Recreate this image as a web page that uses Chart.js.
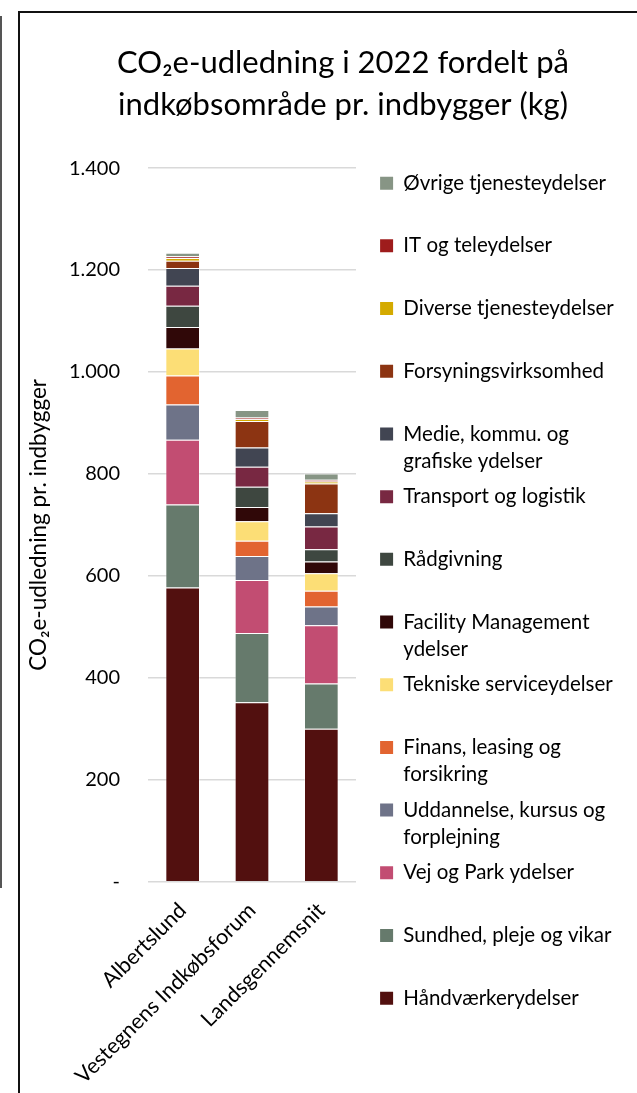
<!DOCTYPE html>
<html><head><meta charset="utf-8">
<script src="https://cdn.jsdelivr.net/npm/chart.js@4.4.1/dist/chart.umd.min.js"></script>
<style>
html,body{margin:0;padding:0;background:#fff;}
#wrap{position:relative;width:637px;height:1093px;overflow:hidden;background:#fff;}
#c{position:absolute;left:0;top:0;}
.frame{position:absolute;left:18px;top:11px;width:700px;height:1200px;border-left:2px solid #111;border-top:2px solid #111;}
.side{position:absolute;left:0;top:16px;width:2px;height:872px;background:#555;}
</style></head><body>
<div id="wrap"><canvas id="c" width="637" height="1093"></canvas><div class="side"></div><div class="frame"></div></div>
<script>
// ---- data ----
const categories = ['Albertslund', 'Vestegnens Indkøbsforum', 'Landsgennemsnit'];
const titleLines = ['CO\u2082e-udledning i 2022 fordelt på', 'indkøbsområde pr. indbygger (kg)'];
const yAxisTitle = 'CO\u2082e-udledning pr. indbygger';
const yTickValues = [0, 200, 400, 600, 800, 1000, 1200, 1400];
const yTickLabels = ['-', '200', '400', '600', '800', '1.000', '1.200', '1.400'];

const haandvaerk   = [577, 352, 300];
const sundhed      = [163, 136, 89];
const vejPark      = [127, 104, 114];
const uddannelse   = [69, 47, 37];
const finans       = [57, 30, 31];
const tekniske     = [53, 38, 34];
const facility     = [42, 28, 23];
const raadgivning  = [42, 40, 24];
const transport    = [39, 39, 45];
const medie        = [35, 38, 26];
const forsyning    = [14, 52, 58];
const diverse      = [5.5, 3.3, 4];
const itTele       = [3.5, 3.2, 3.5];
const oevrige      = [7, 15, 12.5];

const seriesNames = ['Håndværkerydelser', 'Sundhed, pleje og vikar', 'Vej og Park ydelser',
  'Uddannelse, kursus og forplejning', 'Finans, leasing og forsikring', 'Tekniske serviceydelser',
  'Facility Management ydelser', 'Rådgivning', 'Transport og logistik',
  'Medie, kommu. og grafiske ydelser', 'Forsyningsvirksomhed', 'Diverse tjenesteydelser',
  'IT og teleydelser', 'Øvrige tjenesteydelser'];
const legendLines = [['Håndværkerydelser', ''], ['Sundhed, pleje og vikar', ''], ['Vej og Park ydelser', ''],
  ['Uddannelse, kursus og', 'forplejning'], ['Finans, leasing og', 'forsikring'], ['Tekniske serviceydelser', ''],
  ['Facility Management', 'ydelser'], ['Rådgivning', ''], ['Transport og logistik', ''],
  ['Medie, kommu. og', 'grafiske ydelser'], ['Forsyningsvirksomhed', ''], ['Diverse tjenesteydelser', ''],
  ['IT og teleydelser', ''], ['Øvrige tjenesteydelser', '']];
const seriesValues = [haandvaerk, sundhed, vejPark, uddannelse, finans, tekniske, facility,
  raadgivning, transport, medie, forsyning, diverse, itTele, oevrige];
const seriesColors = ['#52100f', '#667a6c', '#c24d72', '#6e7388', '#e26430', '#fcde76', '#300808',
  '#3e4740', '#782842', '#414552', '#8c3412', '#d4aa00', '#9e1c1c', '#879585'];

// ---- layout constants ----
const FONT = "Lato, 'DejaVu Sans', sans-serif";
const PAD_L = 22, PAD_R = -27, PAD_T = 14;
const AREA_LEFT = 148, AREA_RIGHT = 356, AREA_BOTTOM = 881.7;
const LEG_LEFT = 371.4, LEG_TOP = 164.2;

const datasets = seriesNames.map((name, i) => ({
  label: name,
  data: seriesValues[i],
  backgroundColor: seriesColors[i],
  borderColor: 'rgba(255,255,255,0.35)',
  borderWidth: 1,
  stack: 's',
  categoryPercentage: 1,
  barPercentage: 0.5
}));

const layoutFix = {
  id: 'layoutFix',
  beforeUpdate(chart) {
    const lg = chart.legend;
    if (lg && !lg._fixed) {
      const f = lg.fit;
      lg.fit = function () { f.call(this); this.width = (637 - PAD_R) - AREA_RIGHT; };
      lg._fixed = true;
    }
  },
  afterLayout(chart) {
    const lg = chart.legend;
    if (lg) {
      const w = lg.right - lg.left;
      lg.left = LEG_LEFT; lg.right = LEG_LEFT + w;
      lg.top = LEG_TOP;
    }
  }
};

new Chart(document.getElementById('c'), {
  type: 'bar',
  data: { labels: categories, datasets },
  plugins: [layoutFix],
  options: {
    responsive: false,
    animation: false,
    events: [],
    layout: { padding: { left: PAD_L, right: PAD_R, top: PAD_T, bottom: 0 } },
    plugins: {
      title: {
        display: true,
        text: titleLines,
        color: '#000',
        font: { family: FONT, size: 31, weight: 'normal', lineHeight: 1.34 },
        padding: { top: 28.25, bottom: 42.75 }
      },
      legend: {
        display: true,
        position: 'right',
        align: 'start',
        reverse: true,
        labels: {
          color: '#000',
          font: { family: FONT, size: 20.5, lineHeight: 1.317 },
          boxWidth: 13,
          boxHeight: 13,
          padding: 8.7,
          generateLabels(chart) {
            return chart.data.datasets.map((ds, i) => ({
              text: legendLines[i],
              fillStyle: ds.backgroundColor,
              strokeStyle: 'rgba(0,0,0,0)',
              lineWidth: 0,
              hidden: false,
              datasetIndex: i,
              fontColor: '#000'
            }));
          }
        }
      },
      tooltip: { enabled: false }
    },
    scales: {
      x: {
        stacked: true,
        grid: { display: false },
        border: { display: false },
        ticks: {
          color: '#000',
          font: { family: FONT, size: 21.5 },
          maxRotation: 45, minRotation: 45,
          autoSkip: false,
          padding: 8
        },
        afterFit(scale) { scale.height = 1093 - AREA_BOTTOM; }
      },
      y: {
        stacked: true,
        min: 0, max: 1400,
        afterBuildTicks(scale) { scale.ticks = yTickValues.map(v => ({ value: v })); },
        grid: { color: '#d9d9d9', lineWidth: 1.5, drawTicks: false },
        border: { display: false },
        ticks: {
          color: '#000',
          font: { family: FONT, size: 20 },
          padding: 28,
          callback: (v) => yTickLabels[yTickValues.indexOf(v)]
        },
        title: {
          display: true,
          text: yAxisTitle,
          color: '#000',
          font: { family: FONT, size: 22.5, lineHeight: 1.2 },
          padding: { top: 3, bottom: 0 }
        },
        afterFit(scale) { scale.width = AREA_LEFT - PAD_L; }
      }
    }
  }
});
</script>
</body></html>
